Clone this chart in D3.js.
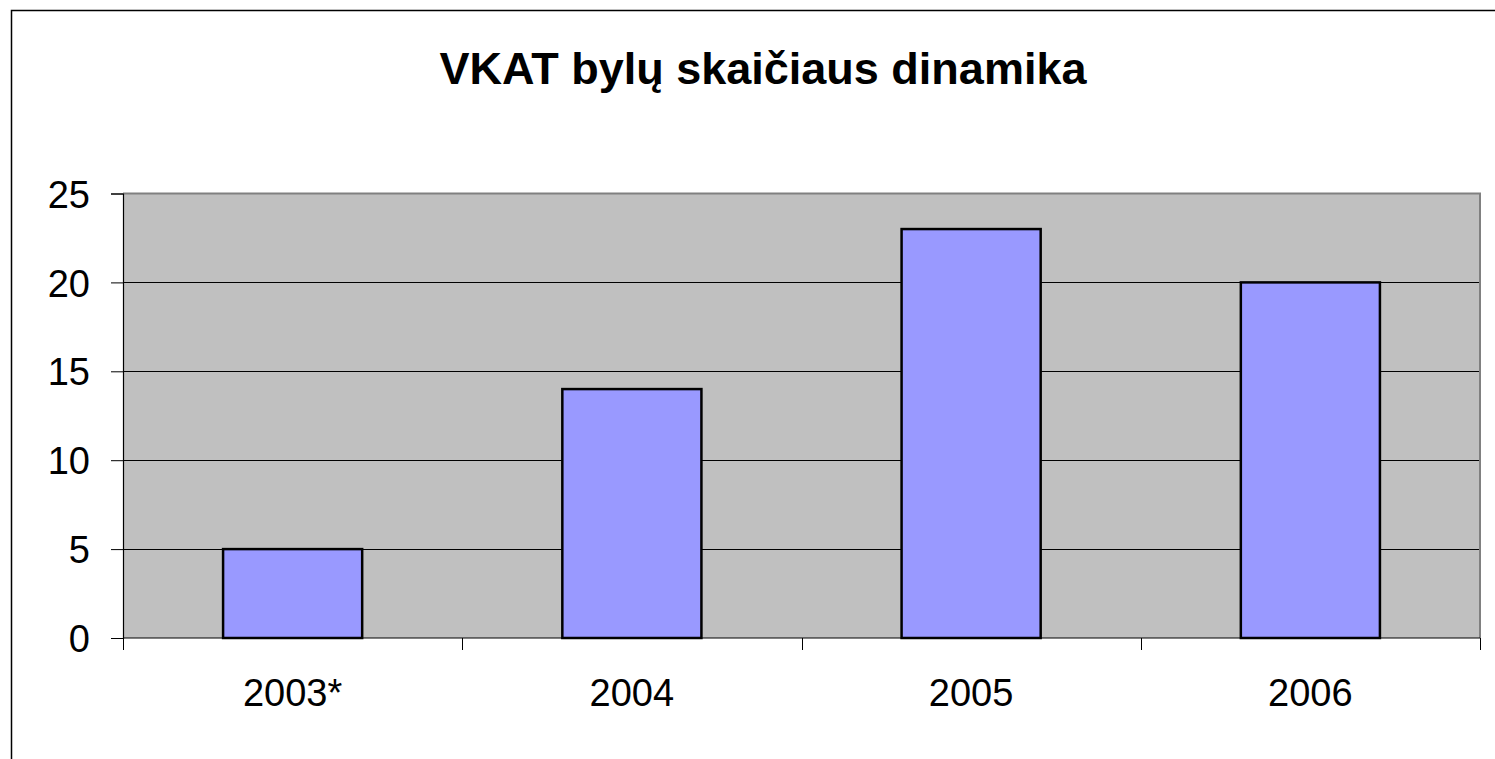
<!DOCTYPE html>
<html>
<head>
<meta charset="utf-8">
<script src="https://cdn.jsdelivr.net/npm/d3@7"></script>
<style>
  body { margin: 0; background: #fff; }
  text { font-family: Arial, "Liberation Sans", sans-serif; fill: #000; }
</style>
</head>
<body>
<svg width="1495" height="759"></svg>
<script>
var years = ["2003*", "2004", "2005", "2006"],
    cases = [5, 14, 23, 20],
    yTicks = [0, 5, 10, 15, 20, 25];

var svg = d3.select("svg"),
    plotLeft = 123,
    plotRight = 1480,
    plotTop = 193.5,
    plotBottom = 638;

// outer chart frame (runs past the window edges)
svg.append("rect")
    .attr("x", 11.5).attr("y", 10.5)
    .attr("width", 1600).attr("height", 900)
    .attr("fill", "none").attr("stroke", "#000").attr("stroke-width", 1.5);

svg.append("text")
    .attr("x", 763).attr("y", 84)
    .attr("text-anchor", "middle")
    .style("font-size", "45px").style("font-weight", "bold")
    .text("VKAT bylų skaičiaus dinamika");

var x = d3.scaleBand().domain(years).range([plotLeft, plotRight]).padding(0);
var y = d3.scaleLinear().domain([0, 25]).range([plotBottom, plotTop]);

// plot area
svg.append("rect")
    .attr("x", plotLeft).attr("y", plotTop)
    .attr("width", plotRight - plotLeft).attr("height", plotBottom - plotTop)
    .attr("fill", "#c0c0c0");

// gridlines
svg.append("g").selectAll("line")
    .data(yTicks.filter(d => d > 0 && d < 25))
    .enter().append("line")
    .attr("x1", plotLeft).attr("x2", plotRight)
    .attr("y1", d => Math.round(y(d)) + 0.5).attr("y2", d => Math.round(y(d)) + 0.5)
    .attr("stroke", "#000").attr("stroke-width", 1);

// top & right border of plot area
svg.append("path")
    .attr("d", "M" + plotLeft + "," + plotTop + "H" + plotRight + "V" + plotBottom)
    .attr("fill", "none").attr("stroke", "#808080").attr("stroke-width", 2);

// bars
var barW = x.bandwidth() * 0.41;
svg.append("g").selectAll("rect")
    .data(years)
    .enter().append("rect")
    .attr("x", d => x(d) + (x.bandwidth() - barW) / 2)
    .attr("y", (d, i) => y(cases[i]))
    .attr("width", barW)
    .attr("height", (d, i) => y(0) - y(cases[i]))
    .attr("fill", "#9999ff")
    .attr("stroke", "#000").attr("stroke-width", 2.5);

// y axis
var yAxis = svg.append("g")
    .attr("transform", "translate(" + plotLeft + ",0)")
    .call(d3.axisLeft(y).tickValues(yTicks).tickSize(12).tickPadding(21));
yAxis.select(".domain").attr("stroke", "#000").attr("stroke-width", 1.2);
yAxis.selectAll(".tick line").attr("stroke", "#000");
yAxis.selectAll("text").style("font-size", "38px").attr("dy", "0.36em");

// x axis: ticks at category boundaries
var xAxis = svg.append("g")
    .attr("transform", "translate(0," + plotBottom + ")");
xAxis.append("line")
    .attr("x1", plotLeft).attr("x2", plotRight)
    .attr("stroke", "#000").attr("stroke-width", 1.2);
xAxis.selectAll(".bound")
    .data(years.concat([null]))
    .enter().append("line")
    .attr("class", "bound")
    .attr("x1", (d, i) => Math.round(plotLeft + i * x.step()) + 0.5)
    .attr("x2", (d, i) => Math.round(plotLeft + i * x.step()) + 0.5)
    .attr("y1", 0).attr("y2", 12)
    .attr("stroke", "#000");
xAxis.selectAll(".lbl")
    .data(years)
    .enter().append("text")
    .attr("class", "lbl")
    .attr("x", d => x(d) + x.bandwidth() / 2)
    .attr("y", 68)
    .attr("text-anchor", "middle")
    .style("font-size", "38px")
    .text(d => d);
</script>
</body>
</html>
